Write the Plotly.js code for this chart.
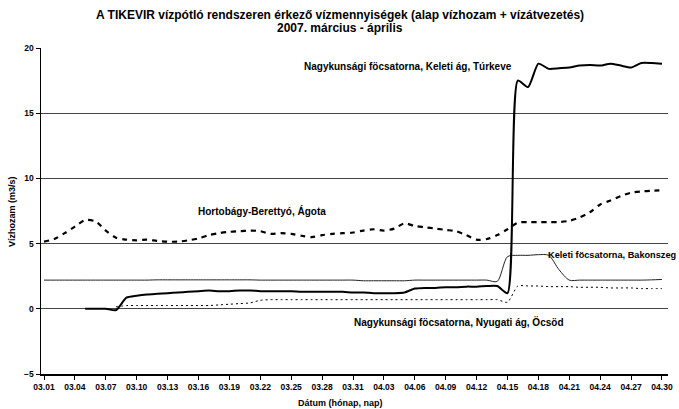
<!DOCTYPE html>
<html>
<head>
<meta charset="utf-8">
<script src="https://cdn.plot.ly/plotly-3.0.1.min.js"></script>
<style>html,body{margin:0;padding:0;background:#fff;}#chart{width:679px;height:409px;}</style>
</head>
<body>
<div id="chart"></div>
<script>
const dates = [
 '2007-03-01','2007-03-02','2007-03-03','2007-03-04','2007-03-05','2007-03-06','2007-03-07','2007-03-08','2007-03-09','2007-03-10',
 '2007-03-11','2007-03-12','2007-03-13','2007-03-14','2007-03-15','2007-03-16','2007-03-17','2007-03-18','2007-03-19','2007-03-20',
 '2007-03-21','2007-03-22','2007-03-23','2007-03-24','2007-03-25','2007-03-26','2007-03-27','2007-03-28','2007-03-29','2007-03-30',
 '2007-03-31','2007-04-01','2007-04-02','2007-04-03','2007-04-04','2007-04-05','2007-04-06','2007-04-07','2007-04-08','2007-04-09',
 '2007-04-10','2007-04-11','2007-04-12','2007-04-13','2007-04-14','2007-04-15','2007-04-16','2007-04-17','2007-04-18','2007-04-19',
 '2007-04-20','2007-04-21','2007-04-22','2007-04-23','2007-04-24','2007-04-25','2007-04-26','2007-04-27','2007-04-28','2007-04-29',
 '2007-04-30'
];

const turkeve = [
 null,null,null,null,0.0,0.0,0.0,-0.1,0.85,1.0,
 1.1,1.15,1.2,1.25,1.3,1.35,1.4,1.35,1.35,1.4,
 1.4,1.35,1.35,1.35,1.35,1.3,1.3,1.3,1.3,1.3,
 1.25,1.25,1.2,1.2,1.2,1.25,1.55,1.6,1.6,1.65,
 1.65,1.7,1.7,1.75,1.75,1.2,17.5,17.0,18.8,18.4,
 18.45,18.5,18.65,18.7,18.65,18.8,18.65,18.5,18.85,18.85,
 18.8
];

const agota = [
 5.15,5.35,5.8,6.3,6.8,6.7,6.0,5.45,5.3,5.25,
 5.3,5.2,5.15,5.15,5.25,5.4,5.65,5.8,5.9,5.95,
 6.0,5.95,5.75,5.8,5.75,5.6,5.5,5.65,5.75,5.8,
 5.85,6.0,6.1,6.0,6.15,6.55,6.35,6.25,6.15,6.05,
 5.95,5.65,5.3,5.35,5.65,6.1,6.6,6.65,6.65,6.65,
 6.65,6.75,7.0,7.4,8.0,8.3,8.65,8.9,9.0,9.05,
 9.1
];

const bakonszeg = [
 2.2,2.2,2.2,2.2,2.2,2.2,2.2,2.2,2.2,2.2,
 2.2,2.22,2.22,2.22,2.22,2.22,2.22,2.22,2.22,2.22,
 2.22,2.2,2.2,2.2,2.2,2.2,2.2,2.2,2.2,2.2,
 2.2,2.15,2.15,2.15,2.15,2.15,2.2,2.2,2.2,2.2,
 2.2,2.2,2.2,2.2,2.1,4.0,4.1,4.1,4.15,4.1,
 3.0,2.2,2.2,2.2,2.2,2.2,2.2,2.2,2.2,2.22,
 2.25
];

const ocsod = [
 null,null,null,null,null,null,null,0.15,0.25,0.25,
 0.25,0.25,0.25,0.25,0.25,0.25,0.25,0.3,0.35,0.4,
 0.45,0.65,0.7,0.7,0.7,0.7,0.7,0.7,0.7,0.7,
 0.7,0.7,0.7,0.7,0.7,0.7,0.7,0.7,0.7,0.7,
 0.7,0.7,0.7,0.7,0.7,0.5,1.75,1.75,1.75,1.7,
 1.7,1.7,1.65,1.65,1.65,1.6,1.6,1.6,1.55,1.55,
 1.55
];

const labelTurkeve = 'Nagykunsági föcsatorna, Keleti ág, Túrkeve';
const labelAgota = 'Hortobágy-Berettyó, Ágota';
const labelBakonszeg = 'Keleti föcsatorna, Bakonszeg';
const labelOcsod = 'Nagykunsági föcsatorna, Nyugati ág, Öcsöd';
const titleLine1 = 'A TIKEVIR vízpótló rendszeren érkező vízmennyiségek (alap vízhozam + vízátvezetés)';
const titleLine2 = '2007. március - április';

const FONT = 'Liberation Sans, Arial, sans-serif';

const traces = [
 {x: dates, y: agota, type: 'scatter', mode: 'lines', name: labelAgota,
  line: {color: '#000', width: 2.2, dash: '5px,5px', shape: 'spline', smoothing: 0.8}},
 {x: dates, y: bakonszeg, type: 'scatter', mode: 'lines', name: labelBakonszeg,
  line: {color: '#222', width: 1, shape: 'spline', smoothing: 0.8}},
 {x: dates, y: ocsod, type: 'scatter', mode: 'lines', name: labelOcsod,
  line: {color: '#000', width: 1, dash: '2px,3px', shape: 'spline', smoothing: 0.6}},
 {x: dates, y: turkeve, type: 'scatter', mode: 'lines', name: labelTurkeve,
  line: {color: '#000', width: 2, shape: 'spline', smoothing: 0.6}}
];

function px2x(px){ return (px - 41) / 627; }
function py2y(py){ return (374 - py) / 326; }

function ann(text, px, py, size, anchor, angle){
 return {text: text, xref: 'paper', yref: 'paper', x: px2x(px), y: py2y(py),
  xanchor: anchor || 'left', yanchor: 'middle', showarrow: false, textangle: angle || 0,
  font: {family: FONT, size: size, color: '#000', weight: 'bold'}};
}

const layout = {
 width: 679, height: 409,
 margin: {l: 41, r: 11, t: 48, b: 35},
 paper_bgcolor: '#fff', plot_bgcolor: '#fff',
 showlegend: false,
 font: {family: FONT, size: 9, color: '#000', weight: 'bold'},
 xaxis: {type: 'date', range: ['2007-02-28 17:00', '2007-04-30 14:00'],
  tick0: '2007-03-01', dtick: 3*86400000, tickformat: '%m.%d',
  showgrid: false, zeroline: false, showline: true, linecolor: '#000', linewidth: 1.5,
  ticks: 'outside', ticklen: 4, tickwidth: 1, tickcolor: '#000',
  tickfont: {family: FONT, size: 8.5, color: '#000', weight: 'bold'}, fixedrange: true},
 yaxis: {range: [-5, 20], tick0: -5, dtick: 5,
  showgrid: true, gridcolor: '#444', gridwidth: 1, zeroline: false,
  showline: true, linecolor: '#000', linewidth: 1.5,
  ticks: 'outside', ticklen: 4, tickwidth: 1, tickcolor: '#000',
  tickfont: {family: FONT, size: 8.5, color: '#000', weight: 'bold'}, fixedrange: true},
 annotations: [
  ann(titleLine1, 340, 15, 12, 'center'),
  ann(titleLine2, 340, 28, 12, 'center'),
  ann(labelTurkeve, 302, 66, 10),
  ann(labelAgota, 196, 211, 10),
  ann(labelBakonszeg, 546, 255, 9.2),
  ann(labelOcsod, 352, 322, 10),
  ann('Vízhozam (m3/s)', 12, 211, 9, 'center', -90),
  ann('Dátum (hónap, nap)', 340, 403, 9, 'center')
 ]
};

Plotly.newPlot('chart', traces, layout, {displayModeBar: false, staticPlot: true});
</script>
</body>
</html>
